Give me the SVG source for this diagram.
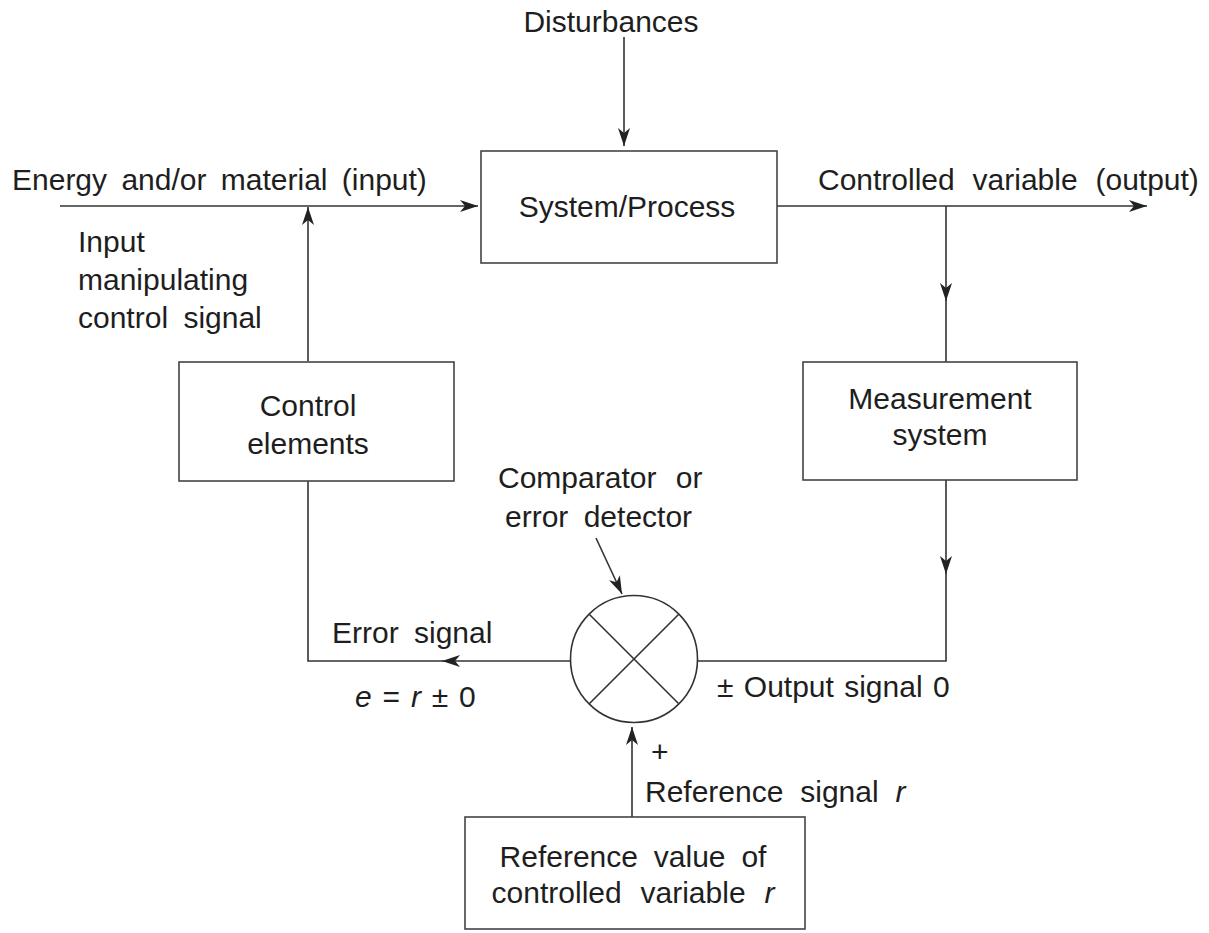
<svg xmlns="http://www.w3.org/2000/svg" width="1209" height="933" viewBox="0 0 1209 933">
<style>
.bg{fill:#ffffff}
.box{fill:#ffffff;stroke:#444;stroke-width:1.6}
.ln{fill:none;stroke:#333;stroke-width:1.6}
.t{font-family:"Liberation Sans",Arial,sans-serif;font-size:30px;fill:#1e1e1e}
.c{text-anchor:middle}
.i{font-style:italic}
</style>
<defs>
<marker id="arr" viewBox="0 0 18 12" refX="18" refY="6" markerWidth="18" markerHeight="12" markerUnits="userSpaceOnUse" orient="auto">
<path d="M0,0 L18,6 L0,12 L5,6 Z" fill="#222"/>
</marker>
</defs>
<rect class="bg" x="0" y="0" width="1209" height="933"/>

<g id="connectors">
<path class="ln" d="M60,206 H478" marker-end="url(#arr)"/>
<path class="ln" d="M308,361 V207" marker-end="url(#arr)"/>
<path class="ln" d="M624,37 V146" marker-end="url(#arr)"/>
<path class="ln" d="M777,206 H1147" marker-end="url(#arr)"/>
<path class="ln" d="M946,206 V301" marker-end="url(#arr)"/>
<path class="ln" d="M946,300 V362"/>
<path class="ln" d="M946,480 V574" marker-end="url(#arr)"/>
<path class="ln" d="M946,573 V661 H697"/>
<path class="ln" d="M571,661 H442" marker-end="url(#arr)"/>
<path class="ln" d="M443,661 H308 V481"/>
<path class="ln" d="M632,817 V727" marker-end="url(#arr)"/>
<path class="ln" d="M596,538 L622,594" marker-end="url(#arr)"/>
</g>

<g id="disturbances">
<text class="t c" x="611" y="32">Disturbances</text>
</g>

<g id="input-label">
<text class="t" x="12" y="190" word-spacing="6">Energy and/or material (input)</text>
</g>

<g id="manip-label">
<text class="t" x="78" y="252">Input</text>
<text class="t" x="78" y="290">manipulating</text>
<text class="t" x="78" y="328" word-spacing="7">control signal</text>
</g>

<g id="system-process">
<rect class="box" x="481" y="151" width="296" height="112"/>
<text class="t c" x="627" y="217">System/Process</text>
</g>

<g id="output-label">
<text class="t" x="818" y="190" word-spacing="9.5">Controlled variable (output)</text>
</g>

<g id="control-elements">
<rect class="box" x="179" y="362" width="275" height="119"/>
<text class="t c" x="308" y="416">Control</text>
<text class="t c" x="308" y="454">elements</text>
</g>

<g id="measurement-system">
<rect class="box" x="803" y="362" width="274" height="118"/>
<text class="t c" x="940" y="409">Measurement</text>
<text class="t c" x="940" y="445">system</text>
</g>

<g id="comparator-label">
<text class="t" x="498" y="488" word-spacing="11">Comparator or</text>
<text class="t" x="505" y="527" word-spacing="7">error detector</text>
</g>

<g id="comparator">
<circle cx="634" cy="659" r="63.5" fill="#ffffff" stroke="#333" stroke-width="1.6"/>
<path class="ln" d="M589.5,614.5 L678.5,703.5 M678.5,614.5 L589.5,703.5"/>
</g>

<g id="error-label">
<text class="t" x="332" y="643" word-spacing="7">Error signal</text>
<text class="t" x="355" y="707" word-spacing="2.5"><tspan class="i">e</tspan> = <tspan class="i">r</tspan> ± 0</text>
</g>

<g id="output-signal-label">
<text class="t" x="717" y="697" word-spacing="2">± Output signal 0</text>
</g>

<g id="reference-signal-label">
<text class="t" x="651" y="762">+</text>
<text class="t" x="645" y="802" word-spacing="8.5">Reference signal <tspan class="i">r</tspan></text>
</g>

<g id="reference-value">
<rect class="box" x="465" y="817" width="340" height="112"/>
<text class="t c" x="633" y="867" word-spacing="7.5">Reference value of</text>
<text class="t c" x="633" y="903" word-spacing="10.5">controlled variable <tspan class="i">r</tspan></text>
</g>
</svg>
